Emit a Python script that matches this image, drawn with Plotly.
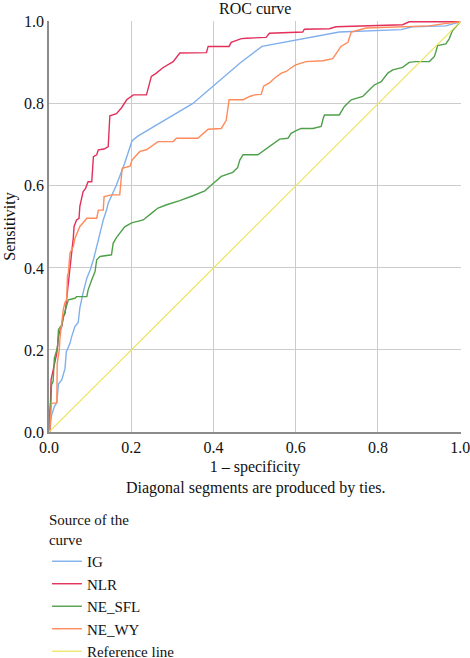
import plotly.graph_objects as go

# ---- data ----
series_names = ["IG", "NLR", "NE_SFL", "NE_WY", "Reference line"]
series_colors = ["#7fb0ec", "#e2305a", "#4fa04a", "#ff8a5a", "#ede35a"]

ig_x = [0, 0.002, 0.006, 0.013, 0.019, 0.023, 0.031, 0.035, 0.039, 0.042, 0.047, 0.051, 0.055, 0.063, 0.071, 0.075, 0.083, 0.092, 0.100, 0.108, 0.116, 0.124, 0.132, 0.140, 0.144, 0.164, 0.184, 0.202, 0.217, 0.350, 0.399, 0.464, 0.518, 0.601, 0.706, 0.856, 0.884, 0.965, 1.0]
ig_y = [0, 0.005, 0.040, 0.062, 0.072, 0.117, 0.127, 0.145, 0.155, 0.195, 0.205, 0.216, 0.232, 0.257, 0.267, 0.302, 0.340, 0.375, 0.395, 0.420, 0.452, 0.485, 0.517, 0.541, 0.558, 0.602, 0.655, 0.710, 0.722, 0.801, 0.843, 0.899, 0.940, 0.956, 0.975, 0.981, 0.988, 0.990, 1.0]

nlr_x = [0, 0.002, 0.005, 0.010, 0.015, 0.019, 0.023, 0.027, 0.031, 0.035, 0.039, 0.043, 0.047, 0.051, 0.055, 0.059, 0.061, 0.067, 0.073, 0.075, 0.079, 0.083, 0.089, 0.095, 0.104, 0.108, 0.116, 0.120, 0.134, 0.144, 0.148, 0.164, 0.176, 0.189, 0.205, 0.237, 0.249, 0.261, 0.277, 0.290, 0.302, 0.318, 0.383, 0.387, 0.438, 0.443, 0.468, 0.480, 0.528, 0.536, 0.617, 0.621, 0.682, 0.698, 0.791, 0.860, 0.876, 1.0]
nlr_y = [0, 0.0, 0.127, 0.151, 0.176, 0.192, 0.232, 0.249, 0.257, 0.281, 0.289, 0.322, 0.363, 0.403, 0.436, 0.472, 0.501, 0.517, 0.521, 0.550, 0.566, 0.586, 0.594, 0.610, 0.610, 0.671, 0.676, 0.688, 0.690, 0.696, 0.771, 0.776, 0.790, 0.810, 0.822, 0.822, 0.867, 0.875, 0.888, 0.895, 0.903, 0.924, 0.925, 0.940, 0.940, 0.950, 0.959, 0.960, 0.962, 0.972, 0.975, 0.982, 0.983, 0.988, 0.990, 0.993, 1.0, 1.0]

sfl_x = [0, 0.002, 0.005, 0.006, 0.010, 0.013, 0.019, 0.021, 0.023, 0.031, 0.035, 0.039, 0.043, 0.047, 0.063, 0.067, 0.092, 0.095, 0.104, 0.112, 0.116, 0.124, 0.152, 0.156, 0.164, 0.184, 0.201, 0.229, 0.249, 0.265, 0.286, 0.318, 0.350, 0.379, 0.395, 0.419, 0.447, 0.459, 0.464, 0.472, 0.508, 0.524, 0.541, 0.561, 0.581, 0.589, 0.601, 0.613, 0.642, 0.662, 0.667, 0.670, 0.706, 0.718, 0.735, 0.763, 0.775, 0.791, 0.808, 0.824, 0.836, 0.860, 0.876, 0.892, 0.925, 0.937, 0.941, 0.945, 0.965, 0.973, 0.981, 0.990, 1.0]
sfl_y = [0, 0.054, 0.080, 0.115, 0.123, 0.180, 0.200, 0.210, 0.250, 0.261, 0.281, 0.295, 0.314, 0.322, 0.326, 0.330, 0.330, 0.346, 0.371, 0.391, 0.420, 0.428, 0.432, 0.460, 0.474, 0.500, 0.510, 0.517, 0.533, 0.546, 0.554, 0.564, 0.576, 0.588, 0.602, 0.623, 0.633, 0.645, 0.663, 0.676, 0.676, 0.688, 0.700, 0.714, 0.716, 0.728, 0.735, 0.740, 0.740, 0.745, 0.765, 0.773, 0.773, 0.793, 0.810, 0.818, 0.830, 0.846, 0.854, 0.875, 0.883, 0.889, 0.901, 0.903, 0.903, 0.915, 0.927, 0.942, 0.946, 0.958, 0.978, 0.988, 1.0]

wy_x = [0, 0.002, 0.006, 0.019, 0.020, 0.025, 0.027, 0.031, 0.035, 0.039, 0.043, 0.045, 0.047, 0.051, 0.059, 0.063, 0.071, 0.075, 0.083, 0.092, 0.116, 0.120, 0.132, 0.134, 0.152, 0.172, 0.178, 0.197, 0.202, 0.221, 0.237, 0.253, 0.265, 0.302, 0.310, 0.362, 0.375, 0.387, 0.419, 0.431, 0.438, 0.472, 0.488, 0.500, 0.516, 0.522, 0.536, 0.549, 0.565, 0.577, 0.589, 0.600, 0.625, 0.666, 0.690, 0.702, 0.710, 0.727, 0.735, 0.771, 0.925, 0.957, 1.0]
wy_y = [0, 0.005, 0.070, 0.071, 0.167, 0.200, 0.232, 0.270, 0.300, 0.316, 0.322, 0.383, 0.387, 0.436, 0.452, 0.472, 0.489, 0.501, 0.510, 0.521, 0.521, 0.541, 0.541, 0.574, 0.578, 0.578, 0.643, 0.648, 0.663, 0.684, 0.688, 0.700, 0.708, 0.708, 0.716, 0.716, 0.728, 0.738, 0.740, 0.760, 0.810, 0.810, 0.818, 0.822, 0.823, 0.843, 0.851, 0.863, 0.875, 0.879, 0.888, 0.895, 0.903, 0.905, 0.910, 0.928, 0.940, 0.950, 0.975, 0.985, 0.990, 0.995, 1.0]

ref_x = [0, 1]
ref_y = [0, 1]

tick_vals = [0.0, 0.2, 0.4, 0.6, 0.8, 1.0]

FONT = "Liberation Serif"

fig = go.Figure()
for name, color, xs, ys, w in [
    (series_names[0], series_colors[0], ig_x, ig_y, 1.4),
    (series_names[1], series_colors[1], nlr_x, nlr_y, 1.4),
    (series_names[2], series_colors[2], sfl_x, sfl_y, 1.4),
    (series_names[3], series_colors[3], wy_x, wy_y, 1.4),
    (series_names[4], series_colors[4], ref_x, ref_y, 1.2),
]:
    fig.add_trace(go.Scatter(x=xs, y=ys, mode="lines", name=name,
                             line=dict(color=color, width=w), cliponaxis=False))

axis_common = dict(
    tickvals=tick_vals, tickformat=".1f", ticklabeloverflow="allow",
    showgrid=True, gridcolor="#cccccc", gridwidth=1.2,
    zeroline=False, showline=True, linecolor="#8c8c8c", linewidth=1.5,
    ticks="", tickfont=dict(family=FONT, size=16, color="#111"),
)

fig.update_layout(
    width=470, height=658,
    margin=dict(l=49, r=9, t=21, b=226, autoexpand=False),
    plot_bgcolor="white", paper_bgcolor="white",
    font=dict(family=FONT, size=15, color="#111"),
    title=dict(text="ROC curve", x=0.543, xanchor="center", y=0.988, yanchor="middle",
               font=dict(family=FONT, size=16, color="#111")),
    xaxis=dict(**axis_common, range=[0, 1.002],
               title=dict(text="1 – specificity", standoff=6,
                          font=dict(family=FONT, size=16, color="#111"))),
    yaxis=dict(**axis_common, range=[0, 1.002],
               title=dict(text="Sensitivity", standoff=4,
                          font=dict(family=FONT, size=16, color="#111"))),
    showlegend=True,
    legend=dict(
        title=dict(text="Source of the<br>curve", font=dict(family=FONT, size=15, color="#111")),
        x=-0.005, xanchor="left", y=-0.18, yanchor="top",
        font=dict(family=FONT, size=15, color="#111"),
        bgcolor="rgba(0,0,0,0)", itemwidth=30, tracegroupgap=0,
    ),
    annotations=[dict(text="Diagonal segments are produced by ties.",
                      xref="paper", yref="paper", x=0.5, y=-0.136,
                      xanchor="center", yanchor="middle", showarrow=False,
                      font=dict(family=FONT, size=16, color="#111"))],
)

fig.write_html("out.html")
